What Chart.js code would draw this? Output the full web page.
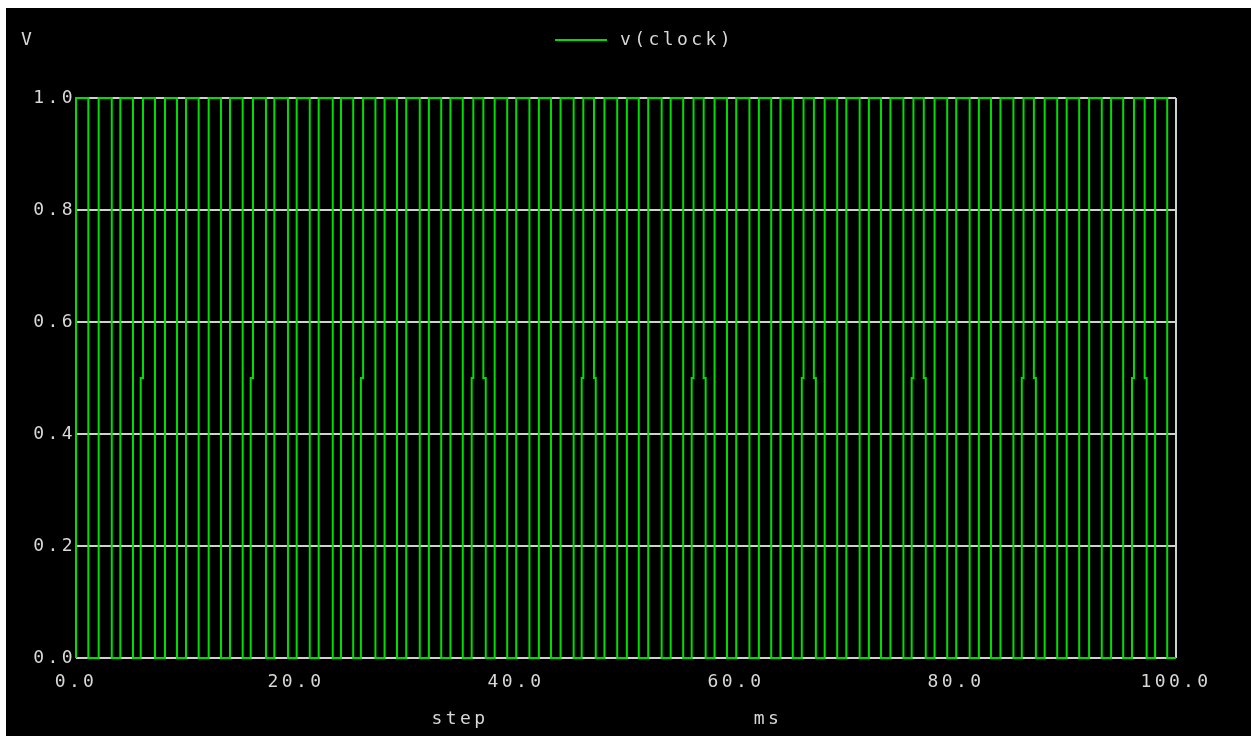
<!DOCTYPE html>
<html>
<head>
<meta charset="utf-8">
<script src="https://cdn.jsdelivr.net/npm/chart.js@4"></script>
<style>
  html, body { margin: 0; padding: 0; background: #fff; overflow: hidden; }
  #wrap { position: absolute; left: 6px; top: 8px; width: 1245px; height: 728px; background: #000; }
</style>
</head>
<body>
<div id="wrap"><canvas id="chart" width="1245" height="728"></canvas></div>
<script>
// v(clock) edges: time (ms) where the trace steps to the level in `volts`
const timeMs = [
    0.00, 0.00, 1.12,  2.06, 3.25,  4.03, 5.18,  5.88, 6.09, 7.18,  8.09, 9.18,
    10.00, 11.15,  12.06, 13.18,  14.00, 15.15,  15.88, 16.09, 17.27,  18.03, 19.27,
    20.06, 21.25,  22.06, 23.34,  24.09, 25.20,  25.90, 26.10, 27.22,  28.05, 29.18,
    30.02, 31.25,  32.08, 33.20,  34.04, 35.16,  35.97, 36.12, 37.03, 37.25,  38.06, 39.20,
    40.02, 41.22,  42.08, 43.18,  44.05, 45.24,  45.97, 46.12, 47.09, 47.25,  48.04, 49.20,
    50.08, 51.16,  52.02, 53.24,  54.06, 55.20,  55.97, 56.14, 57.06, 57.24,  58.05, 59.18,
    60.02, 61.22,  62.08, 63.20,  64.04, 65.16,  65.98, 66.14, 67.08, 67.26,  68.06, 69.20,
    70.03, 71.24,  72.08, 73.18,  74.04, 75.22,  75.97, 76.13, 77.07, 77.25,  78.05, 79.20,
    80.02, 81.24,  82.08, 83.18,  84.04, 85.22,  85.98, 86.14, 87.08, 87.26,  88.06, 89.20,
    90.06, 91.20,  92.10, 93.25,  94.10, 95.20,  96.00, 96.18, 97.15, 97.33,  98.10, 99.20,
    100.00
];
const volts = [
    0, 1, 0,  1, 0,  1, 0,  0.5, 1, 0,  1, 0,
    1, 0,  1, 0,  1, 0,  0.5, 1, 0,  1, 0,
    1, 0,  1, 0,  1, 0,  0.5, 1, 0,  1, 0,
    1, 0,  1, 0,  1, 0,  0.5, 1, 0.5, 0,  1, 0,
    1, 0,  1, 0,  1, 0,  0.5, 1, 0.5, 0,  1, 0,
    1, 0,  1, 0,  1, 0,  0.5, 1, 0.5, 0,  1, 0,
    1, 0,  1, 0,  1, 0,  0.5, 1, 0.5, 0,  1, 0,
    1, 0,  1, 0,  1, 0,  0.5, 1, 0.5, 0,  1, 0,
    1, 0,  1, 0,  1, 0,  0.5, 1, 0.5, 0,  1, 0,
    1, 0,  1, 0,  1, 0,  0.5, 1, 0.5, 0,  1, 0,
    0
];
const seriesName = 'v(clock)';
const yUnit = 'V';
const xTitles = ['step', 'ms'];

const FONT = '18px "DejaVu Sans Mono", "Liberation Mono", monospace';
const TXT = '#d8d8d8';
const GRID = '#d0d0d0';
const TRACE = '#00dd00';

const spacing = {
    id: 'spacing',
    beforeLayout(chart) { chart.ctx.letterSpacing = '3.4px'; },
    beforeDraw(chart) {
        const ctx = chart.ctx;
        ctx.letterSpacing = '3.4px';
        ctx.save();
        ctx.fillStyle = '#000';
        ctx.fillRect(0, 0, chart.width, chart.height);
        ctx.restore();
    }
};

// unit label, legend and axis titles drawn the way the simulator plots them
const labels = {
    id: 'labels',
    afterDraw(chart) {
        const ctx = chart.ctx;
        const a = chart.chartArea;
        ctx.save();
        ctx.font = FONT;
        ctx.fillStyle = TXT;
        ctx.textBaseline = 'middle';
        ctx.textAlign = 'left';
        ctx.fillText(yUnit, 15, 32);

        const ds = chart.data.datasets[0];
        ctx.strokeStyle = ds.borderColor;
        ctx.lineWidth = 2;
        ctx.beginPath();
        ctx.moveTo(549, 32);
        ctx.lineTo(601, 32);
        ctx.stroke();
        ctx.fillText(ds.label, 614, 32);

        ctx.textAlign = 'center';
        ctx.fillText(xTitles[0], a.left + 384, 711);
        ctx.fillText(xTitles[1], a.left + 692, 711);
        ctx.restore();
    }
};

new Chart(document.getElementById('chart').getContext('2d'), {
    type: 'line',
    data: {
        datasets: [{
            label: seriesName,
            data: timeMs.map((t, i) => ({ x: t, y: volts[i] })),
            borderColor: TRACE,
            borderWidth: 2,
            stepped: 'before',
            pointRadius: 0,
            tension: 0,
            fill: false,
            clip: 4
        }]
    },
    options: {
        responsive: false,
        animation: false,
        devicePixelRatio: 1,
        layout: { padding: { top: 90, right: 75, left: 0, bottom: 0 } },
        plugins: { legend: { display: false }, tooltip: { enabled: false } },
        scales: {
            x: {
                type: 'linear',
                min: 0,
                max: 100,
                afterFit: s => { s.height = 78; },
                border: { display: false },
                grid: {
                    drawTicks: false,
                    lineWidth: 2,
                    color: c => c.tick && c.tick.value === 100 ? GRID : 'rgba(0,0,0,0)'
                },
                ticks: {
                    stepSize: 20,
                    padding: 14,
                    maxRotation: 0,
                    color: TXT,
                    font: { family: '"DejaVu Sans Mono", "Liberation Mono", monospace', size: 18 },
                    callback: v => v.toFixed(1)
                }
            },
            y: {
                min: 0,
                max: 1,
                afterFit: s => { s.width = 70; },
                border: { display: false },
                grid: { drawTicks: false, lineWidth: 2, color: GRID },
                ticks: {
                    stepSize: 0.2,
                    padding: 0,
                    color: TXT,
                    font: { family: '"DejaVu Sans Mono", "Liberation Mono", monospace', size: 18 },
                    callback: v => v.toFixed(1)
                }
            }
        }
    },
    plugins: [spacing, labels]
});
</script>
</body>
</html>
